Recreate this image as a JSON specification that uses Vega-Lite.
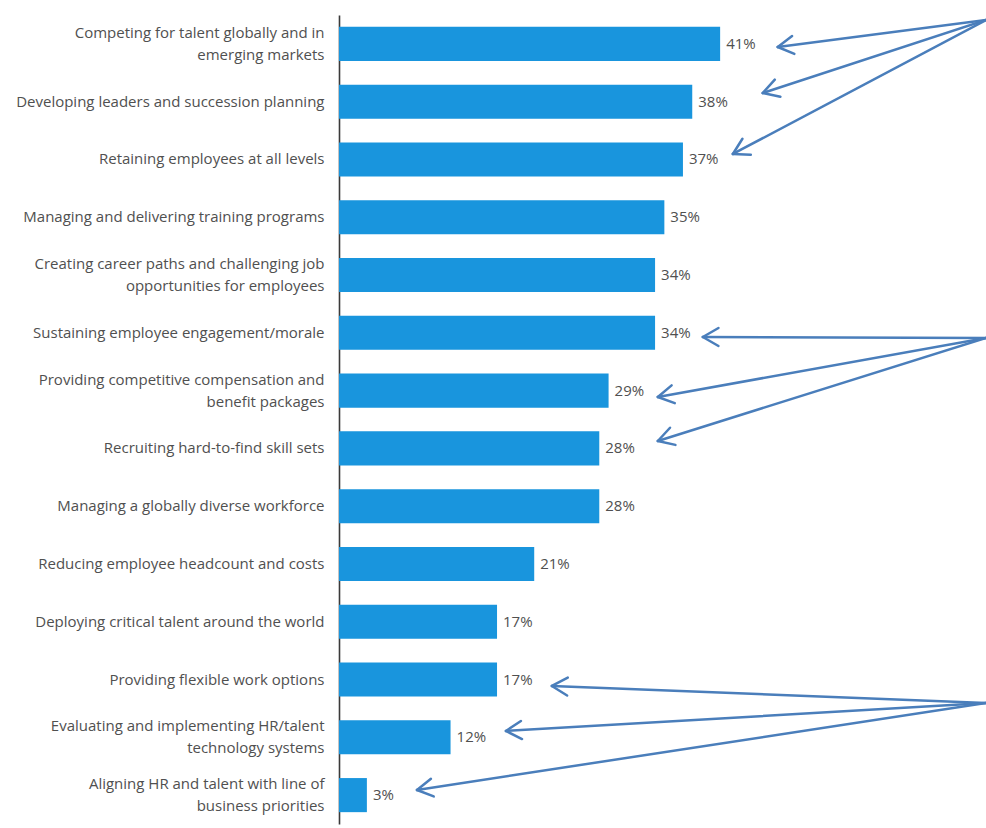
{
  "$schema": "https://vega.github.io/schema/vega-lite/v6.json",
  "width": 647,
  "height": 809,
  "autosize": {"type": "none"},
  "padding": {"left": 339, "top": 15, "right": 0, "bottom": 4},
  "background": "white",
  "config": {"view": {"stroke": null}, "font": "Open Sans"},
  "datasets": {
    "bars": [
      {"challenge": "Competing for talent globally and in\nemerging markets", "pct": 41},
      {"challenge": "Developing leaders and succession planning", "pct": 38},
      {"challenge": "Retaining employees at all levels", "pct": 37},
      {"challenge": "Managing and delivering training programs", "pct": 35},
      {"challenge": "Creating career paths and challenging job\nopportunities for employees", "pct": 34},
      {"challenge": "Sustaining employee engagement/morale", "pct": 34},
      {"challenge": "Providing competitive compensation and\nbenefit packages", "pct": 29},
      {"challenge": "Recruiting hard-to-find skill sets", "pct": 28},
      {"challenge": "Managing a globally diverse workforce", "pct": 28},
      {"challenge": "Reducing employee headcount and costs", "pct": 21},
      {"challenge": "Deploying critical talent around the world", "pct": 17},
      {"challenge": "Providing flexible work options", "pct": 17},
      {"challenge": "Evaluating and implementing HR/talent\ntechnology systems", "pct": 12},
      {"challenge": "Aligning HR and talent with line of\nbusiness priorities", "pct": 3}
    ],
    "arrows": [
      {"x1": 69.6, "r1": -0.413, "x2": 47.2, "r2": 0.054},
      {"x1": 47.2, "r1": 0.054, "x2": 48.99, "r2": 0.173},
      {"x1": 47.2, "r1": 0.054, "x2": 48.74, "r2": -0.135},
      {"x1": 69.6, "r1": -0.413, "x2": 45.59, "r2": 0.85},
      {"x1": 45.59, "r1": 0.85, "x2": 47.48, "r2": 0.914},
      {"x1": 45.59, "r1": 0.85, "x2": 46.88, "r2": 0.618},
      {"x1": 69.6, "r1": -0.413, "x2": 42.37, "r2": 1.905},
      {"x1": 42.37, "r1": 1.905, "x2": 44.3, "r2": 1.917},
      {"x1": 42.37, "r1": 1.905, "x2": 43.4, "r2": 1.642},
      {"x1": 69.6, "r1": 5.089, "x2": 39.14, "r2": 5.072},
      {"x1": 39.14, "r1": 5.072, "x2": 40.82, "r2": 5.228},
      {"x1": 39.14, "r1": 5.072, "x2": 40.82, "r2": 4.916},
      {"x1": 69.6, "r1": 5.089, "x2": 34.3, "r2": 6.11},
      {"x1": 34.3, "r1": 6.11, "x2": 36.12, "r2": 6.216},
      {"x1": 34.3, "r1": 6.11, "x2": 35.78, "r2": 5.909},
      {"x1": 69.6, "r1": 5.089, "x2": 34.3, "r2": 6.872},
      {"x1": 34.3, "r1": 6.872, "x2": 36.19, "r2": 6.939},
      {"x1": 34.3, "r1": 6.872, "x2": 35.61, "r2": 6.643},
      {"x1": 69.6, "r1": 11.405, "x2": 22.9, "r2": 11.111},
      {"x1": 22.9, "r1": 11.111, "x2": 24.54, "r2": 11.277},
      {"x1": 22.9, "r1": 11.111, "x2": 24.61, "r2": 10.966},
      {"x1": 69.6, "r1": 11.405, "x2": 17.96, "r2": 11.89},
      {"x1": 17.96, "r1": 11.89, "x2": 19.69, "r2": 12.03},
      {"x1": 17.96, "r1": 11.89, "x2": 19.57, "r2": 11.718},
      {"x1": 69.6, "r1": 11.405, "x2": 8.39, "r2": 12.911},
      {"x1": 8.39, "r1": 12.911, "x2": 10.19, "r2": 13.023},
      {"x1": 8.39, "r1": 12.911, "x2": 9.89, "r2": 12.717}
    ]
  },
  "layer": [
    {
      "data": {"name": "bars"},
      "encoding": {
        "y": {
          "field": "challenge",
          "type": "nominal",
          "sort": null,
          "scale": {"paddingInner": 0.41, "paddingOuter": 0.205},
          "axis": {
            "title": null,
            "ticks": false,
            "labelPadding": 15,
            "labelFontSize": 15,
            "labelFont": "Open Sans",
            "labelColor": "#505050",
            "labelLimit": 400,
            "labelLineHeight": 22,
            "labelExpr": "split(datum.label, '\\n')",
            "labelOffset": {"condition": {"test": "indexof(datum.value, '\\n') >= 0", "value": -11}, "value": 0},
            "domainColor": "#3a3a3a",
            "domainWidth": 1.6,
            "grid": false
          }
        },
        "x": {
          "field": "pct",
          "type": "quantitative",
          "scale": {"domain": [0, 69.6], "nice": false, "zero": true},
          "axis": null
        }
      },
      "layer": [
        {"mark": {"type": "bar", "color": "#1995DD"}},
        {
          "transform": [{"calculate": "datum.pct + '%'", "as": "pct_label"}],
          "mark": {"type": "text", "align": "left", "dx": 6, "fontSize": 15, "font": "Open Sans", "color": "#505050"},
          "encoding": {"text": {"field": "pct_label", "type": "nominal"}}
        }
      ]
    },
    {
      "data": {"name": "arrows"},
      "mark": {"type": "rule", "color": "#4A7EBB", "strokeWidth": 2.5, "strokeCap": "round"},
      "encoding": {
        "x": {"field": "x1", "type": "quantitative"},
        "x2": {"field": "x2"},
        "y": {"field": "r1", "type": "quantitative", "scale": {"domain": [-0.5, 13.5], "reverse": true, "nice": false, "zero": false}, "axis": null},
        "y2": {"field": "r2"}
      }
    }
  ],
  "resolve": {"scale": {"y": "independent"}}
}
